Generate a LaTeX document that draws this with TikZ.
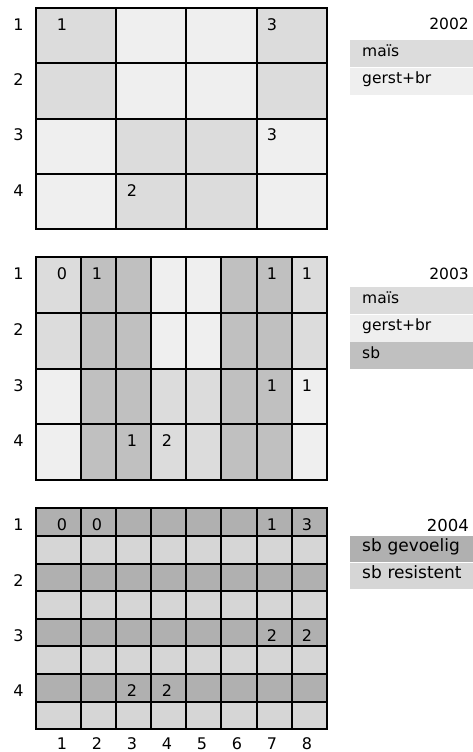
\documentclass[tikz,border=0pt]{standalone}
\usepackage{fontspec}
\setmainfont{DejaVu Sans}
\usetikzlibrary{positioning}
\definecolor{mais}{HTML}{DCDCDC}
\definecolor{gerst}{HTML}{EFEFEF}
\definecolor{sb}{HTML}{C0C0C0}
\definecolor{gevoelig}{HTML}{B0B0B0}
\definecolor{resistent}{HTML}{D6D6D6}

\begin{document}
\begin{tikzpicture}[x=1pt, y=-1pt,
    gridline/.style={line width=2pt, draw=black},
    num/.style={font=\fontsize{16}{18}\selectfont, inner sep=0pt},
    year/.style={font=\fontsize{15.5}{18}\selectfont, inner sep=0pt, anchor=east},
    legbox/.style={font=\fontsize{15.5}{18}\selectfont, anchor=north west, minimum height=27pt,
        text width=112pt, inner xsep=12pt, inner ysep=0pt, align=left,
        text height=0.75em, text depth=0.22em}]
    \useasboundingbox (0,0) rectangle (473,752);

    % 2002: vier blokken van twee kolommen
    \foreach \r/\row in {1/{mais,gerst,gerst,mais}, 2/{mais,gerst,gerst,mais},
                         3/{gerst,mais,mais,gerst}, 4/{gerst,mais,mais,gerst}} {
        \foreach \f [count=\k] in \row {
            \pgfmathsetmacro\xa{\k==1 ? 36 : 81+35.1*(2*\k-3)}
            \pgfmathsetmacro\xb{81+35.1*(2*\k-1)}
            \filldraw[gridline, fill=\f] (\xa, {8+55.3*(\r-1)}) rectangle (\xb, {8+55.3*\r});
        }
        \node[num] (r02-\r) at (18.5, {8+55.3*(\r-1)+16.5}) {\r};
    }
    \foreach \r/\c/\t [count=\n] in {1/1/1, 1/7/3, 3/7/3, 4/3/2}
        \node[num] (c02-\n) at ({62+35*(\c-1)}, {8+55.3*(\r-1)+16.5}) {\t};

    % 2003: acht kolommen
    \foreach \r/\row in {1/{mais,sb,sb,gerst,gerst,sb,sb,mais}, 2/{mais,sb,sb,gerst,gerst,sb,sb,mais},
                         3/{gerst,sb,sb,mais,mais,sb,sb,gerst}, 4/{gerst,sb,sb,mais,mais,sb,sb,gerst}} {
        \foreach \f [count=\i] in \row {
            \pgfmathsetmacro\xa{\i==1 ? 36 : 81+35.1*(\i-2)}
            \pgfmathsetmacro\xb{81+35.1*(\i-1)}
            \filldraw[gridline, fill=\f] (\xa, {257.3+55.7*(\r-1)}) rectangle (\xb, {257.3+55.7*\r});
        }
        \node[num] (r03-\r) at (18.5, {257.3+55.7*(\r-1)+16.5}) {\r};
    }
    \foreach \r/\c/\t [count=\n] in {1/1/0, 1/2/1, 1/7/1, 1/8/1, 3/7/1, 3/8/1, 4/3/1, 4/4/2}
        \node[num] (c03-\n) at ({62+35*(\c-1)}, {257.3+55.7*(\r-1)+16.5}) {\t};

    % 2004: acht halve rijen
    \foreach \s in {1,...,8} {
        \pgfmathsetmacro\ya{508.3+27.63*(\s-1)}
        \pgfmathsetmacro\yb{508.3+27.63*\s}
        \pgfmathparse{isodd(\s) ? "gevoelig" : "resistent"}
        \edef\f{\pgfmathresult}
        \foreach \i in {1,...,8} {
            \pgfmathsetmacro\xa{\i==1 ? 36 : 81+35.1*(\i-2)}
            \pgfmathsetmacro\xb{81+35.1*(\i-1)}
            \filldraw[gridline, fill=\f] (\xa, \ya) rectangle (\xb, \yb);
        }
    }
    \foreach \r in {1,...,4}
        \node[num] (r04-\r) at (18.5, {508.3+27.63*(2*\r-2)+16.5}) {\r};
    \foreach \r/\c/\t [count=\n] in {1/1/0, 1/2/0, 1/7/1, 1/8/3, 5/7/2, 5/8/2, 7/3/2, 7/4/2}
        \node[num] (c04-\n) at ({62+35*(\c-1)}, {508.3+27.63*(\r-1)+16.5}) {\t};

    % kolomnummers
    \foreach \c in {1,...,8}
        \node[num] (k\c) at ({62+35*(\c-1)}, 743.5) {\c};

    % Legenda
    \node[year] (y02) at (469, 24) {2002};
    \node[legbox, fill=mais] (mais02) at (350, 40) {maïs};
    \node[legbox, fill=gerst, below=0pt of mais02] (gerst02) {gerst+br};

    \node[year] (y03) at (469, 274) {2003};
    \node[legbox, fill=mais] (mais03) at (350, 287) {maïs};
    \node[legbox, fill=gerst, below=0pt of mais03] (gerst03) {gerst+br};
    \node[legbox, fill=sb, below=0pt of gerst03] (sb03) {sb};

    \node[year, font=\fontsize{16.5}{20}\selectfont] (y04) at (469, 525) {2004};
    \node[legbox, fill=gevoelig, font=\fontsize{17}{20}\selectfont, minimum height=26pt] (gev04) at (350, 536) {sb gevoelig};
    \node[legbox, fill=resistent, font=\fontsize{17}{20}\selectfont, minimum height=26pt, below=0pt of gev04] (res04) {sb resistent};
\end{tikzpicture}
\end{document}
